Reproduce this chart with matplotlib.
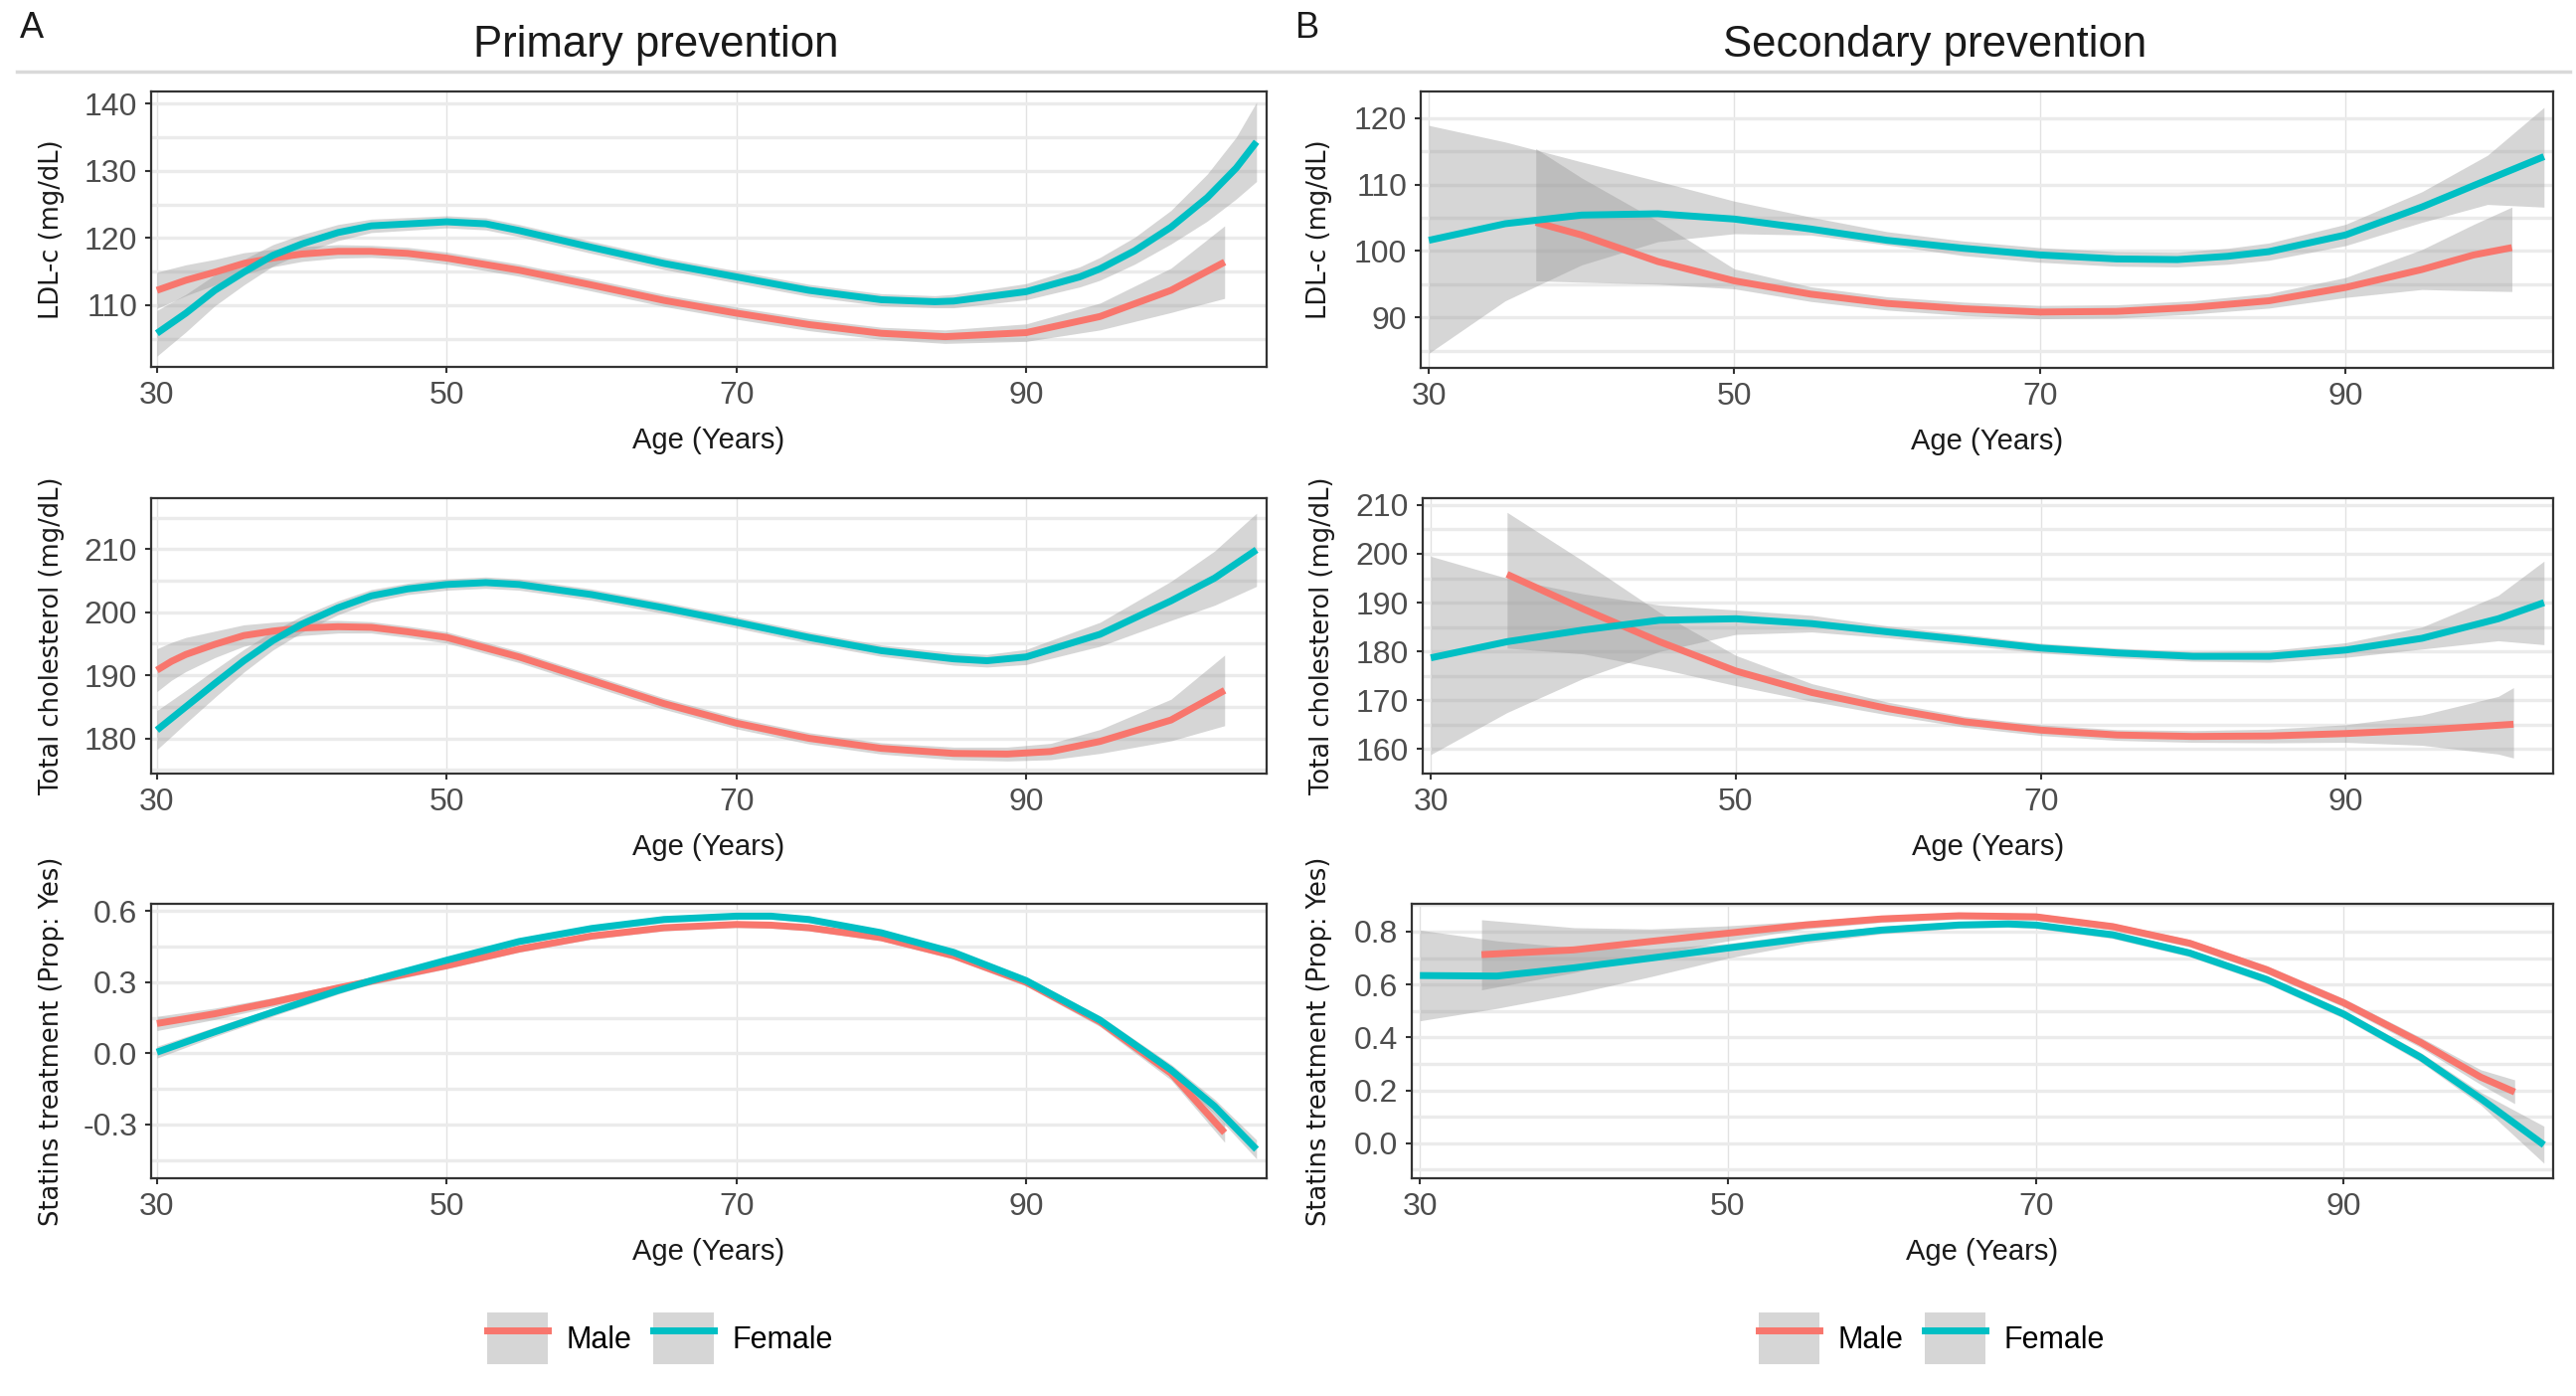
import numpy as np
import matplotlib
matplotlib.use("Agg")
import matplotlib.pyplot as plt
from matplotlib.patches import Patch
from matplotlib.lines import Line2D

plt.rcParams["font.family"] = ["Liberation Sans", "DejaVu Sans"]
plt.rcParams["axes.unicode_minus"] = False

MALE = "#F8766D"
FEMALE = "#00BFC4"

# ---------------- Primary prevention (A) ----------------
# LDL-c
a_ldl_f_age = [30, 32, 34, 36, 38, 40, 42.5, 44.8, 50, 52.7, 55, 60, 65, 70, 75, 80, 83.7, 85, 90,
               93.7, 95.1, 97.5, 100, 102.5, 104.5, 105.9]
a_ldl_f_fit = [105.8, 108.8, 112.2, 114.9, 117.4, 119.1, 120.8, 121.8, 122.4, 122.1, 121.1, 118.6,
               116.2, 114.2, 112.2, 110.8, 110.5, 110.6, 112.0, 114.2, 115.4, 118.1, 121.6, 126.0,
               130.4, 134.3]
a_ldl_f_hw = [3.4, 2.8, 2.3, 1.9, 1.6, 1.4, 1.2, 1.0, 0.9, 0.9, 0.9, 0.9, 0.9, 0.9, 0.9, 0.9, 0.9,
              1.0, 1.2, 1.5, 1.7, 2.0, 2.5, 3.5, 4.6, 5.9]
a_ldl_m_age = [30, 32, 34, 36, 38, 40, 42.5, 44.8, 47.3, 50, 55, 60, 65, 70, 75, 80, 84.4, 90, 95.1,
               100, 103.7]
a_ldl_m_fit = [112.2, 113.7, 114.9, 116.2, 117.0, 117.6, 118.0, 118.0, 117.7, 117.0, 115.2, 113.0,
               110.7, 108.8, 107.1, 105.8, 105.3, 105.9, 108.3, 112.2, 116.4]
a_ldl_m_hw = [2.7, 2.3, 1.9, 1.6, 1.3, 1.1, 1.0, 0.9, 0.9, 0.9, 0.9, 0.9, 0.9, 0.9, 0.9, 0.9, 1.0,
              1.3, 2.0, 3.3, 5.4]

# Total cholesterol
a_tc_f_age = [30, 32, 34, 36, 38, 40, 42.5, 44.8, 47.3, 50, 52.7, 55, 60, 65, 70, 75, 80, 85, 87.3,
              90, 95.1, 100, 103, 105.9]
a_tc_f_fit = [181.3, 185.0, 188.7, 192.3, 195.5, 198.1, 200.7, 202.6, 203.7, 204.4, 204.7, 204.4,
              202.8, 200.7, 198.4, 196.0, 193.9, 192.6, 192.3, 192.9, 196.5, 201.8, 205.4, 209.9]
a_tc_f_hw = [3.1, 2.6, 2.2, 1.8, 1.5, 1.3, 1.1, 1.0, 0.9, 0.9, 0.9, 0.9, 0.9, 0.9, 0.9, 0.9, 0.9,
             1.0, 1.0, 1.2, 1.9, 3.1, 4.3, 5.8]
a_tc_m_age = [30, 31, 32, 34, 36, 38, 40, 42.5, 44.8, 47.3, 50, 55, 60, 65, 70, 75, 80, 85, 88.7,
              91.7, 95.1, 100, 103.7]
a_tc_m_fit = [190.8, 192.2, 193.3, 194.9, 196.3, 197.0, 197.5, 197.7, 197.6, 196.9, 196.0, 192.9,
              189.2, 185.5, 182.4, 180.0, 178.4, 177.6, 177.5, 177.9, 179.5, 182.9, 187.6]
a_tc_m_hw = [3.4, 3.0, 2.7, 2.1, 1.7, 1.4, 1.2, 1.0, 0.9, 0.9, 0.9, 0.9, 0.9, 0.9, 0.9, 0.9, 0.9,
             1.0, 1.1, 1.3, 1.9, 3.3, 5.6]

# Statins treatment
a_st_f_age = [30, 34, 38, 42.5, 44.8, 50, 55, 60, 65, 70, 72.4, 75, 80, 85, 90, 95.1, 100, 103, 105.9]
a_st_f_fit = [0.005, 0.091, 0.174, 0.265, 0.307, 0.393, 0.472, 0.527, 0.565, 0.579, 0.579, 0.565,
              0.509, 0.426, 0.307, 0.140, -0.070, -0.223, -0.405]
a_st_f_hw = [0.025, 0.02, 0.017, 0.015, 0.014, 0.013, 0.013, 0.013, 0.013, 0.013, 0.013, 0.013,
             0.013, 0.014, 0.015, 0.018, 0.024, 0.03, 0.04]
a_st_m_age = [30, 34, 38, 42.5, 50, 55, 60, 65, 70, 72.4, 75, 80, 85, 90, 95.1, 100, 103.7]
a_st_m_fit = [0.126, 0.167, 0.216, 0.276, 0.370, 0.440, 0.495, 0.530, 0.544, 0.541, 0.530, 0.488,
              0.412, 0.300, 0.133, -0.084, -0.335]
a_st_m_hw = [0.03, 0.024, 0.019, 0.016, 0.013, 0.013, 0.013, 0.013, 0.013, 0.013, 0.013, 0.013,
             0.014, 0.016, 0.02, 0.028, 0.04]

# ---------------- Secondary prevention (B) ----------------
b_ldl_f_age = [30, 35, 40, 45, 50, 55, 60, 65, 70, 75, 79, 82.3, 85, 90, 95, 99.3, 103]
b_ldl_f_fit = [101.6, 104.1, 105.4, 105.6, 104.8, 103.3, 101.6, 100.4, 99.4, 98.8, 98.7, 99.2,
               99.9, 102.4, 106.6, 110.7, 114.2]
b_ldl_f_lo = [84.6, 92.5, 97.9, 101.4, 102.6, 102.4, 100.9, 99.3, 98.3, 97.7, 97.6, 98.0, 98.6,
              100.8, 104.3, 107.0, 106.6]
b_ldl_f_hi = [118.9, 116.4, 113.4, 110.5, 107.5, 105.1, 102.9, 101.5, 100.5, 99.9, 99.8, 100.4,
              101.2, 104.0, 108.9, 114.4, 121.6]
b_ldl_m_age = [37, 40, 45, 50, 55, 60, 65, 70, 75, 80, 85, 90, 95, 98.4, 100.9]
b_ldl_m_fit = [104.3, 102.4, 98.4, 95.5, 93.5, 92.1, 91.3, 90.8, 90.9, 91.5, 92.5, 94.5, 97.2, 99.4, 100.5]
b_ldl_m_lo = [95.5, 95.3, 95.0, 94.3, 92.4, 91.1, 90.3, 89.8, 89.9, 90.5, 91.4, 93.0, 94.2, 94.0, 93.9]
b_ldl_m_hi = [115.4, 111.0, 104.5, 97.3, 94.6, 93.1, 92.3, 91.8, 91.9, 92.5, 93.6, 96.0, 100.2, 104.0, 106.6]

b_tc_f_age = [30, 35, 40, 45, 50, 55, 60, 65, 70, 75, 80, 85, 90, 95, 100, 103]
b_tc_f_fit = [178.7, 182.0, 184.4, 186.4, 186.7, 185.7, 184.0, 182.4, 180.7, 179.7, 179.0, 179.0,
              180.3, 182.7, 186.7, 190.0]
b_tc_f_lo = [158.9, 167.5, 174.5, 180.0, 183.5, 184.0, 182.8, 181.3, 179.7, 178.7, 178.0, 177.8,
             178.8, 180.5, 182.2, 181.4]
b_tc_f_hi = [199.5, 195.0, 191.8, 189.5, 188.5, 187.4, 185.2, 183.5, 181.7, 180.7, 180.0, 180.2,
             181.8, 185.0, 191.5, 198.5]
b_tc_m_age = [35, 40, 45, 50, 55, 60, 65, 70, 75, 80, 85, 90, 95, 100, 101]
b_tc_m_fit = [195.8, 188.7, 182.0, 176.0, 171.6, 168.3, 165.6, 163.9, 162.9, 162.6, 162.7, 163.2,
              163.9, 164.9, 165.1]
b_tc_m_lo = [180.7, 179.5, 176.5, 173.0, 169.8, 167.0, 164.5, 162.8, 161.8, 161.4, 161.3, 161.4,
             160.8, 159.0, 158.2]
b_tc_m_hi = [208.5, 198.5, 188.0, 179.2, 173.4, 169.6, 166.7, 165.0, 164.0, 163.8, 164.1, 165.0,
             167.0, 170.8, 172.6]

b_st_f_age = [30, 35, 40, 45, 50, 55, 60, 65, 68.2, 70, 75, 80, 85, 90, 95, 98.9, 103]
b_st_f_fit = [0.634, 0.632, 0.663, 0.700, 0.738, 0.775, 0.806, 0.825, 0.829, 0.825, 0.788, 0.719,
              0.619, 0.488, 0.325, 0.169, -0.006]
b_st_f_lo = [0.463, 0.51, 0.565, 0.63, 0.70, 0.755, 0.792, 0.812, 0.816, 0.812, 0.774, 0.705,
             0.604, 0.472, 0.307, 0.145, -0.075]
b_st_f_hi = [0.806, 0.765, 0.74, 0.735, 0.755, 0.792, 0.82, 0.838, 0.842, 0.838, 0.802, 0.733,
             0.634, 0.504, 0.343, 0.193, 0.065]
b_st_m_age = [34, 40, 45, 50, 55, 60, 65, 70, 75, 80, 85, 90, 95, 98.9, 101.1]
b_st_m_fit = [0.713, 0.731, 0.763, 0.794, 0.825, 0.848, 0.860, 0.856, 0.819, 0.756, 0.656, 0.531,
              0.381, 0.250, 0.194]
b_st_m_lo = [0.58, 0.645, 0.71, 0.765, 0.81, 0.835, 0.847, 0.843, 0.806, 0.742, 0.641, 0.515,
             0.362, 0.222, 0.15]
b_st_m_hi = [0.845, 0.815, 0.81, 0.822, 0.84, 0.861, 0.873, 0.869, 0.832, 0.77, 0.671, 0.547,
             0.40, 0.278, 0.24]

age_ticks = [30, 50, 70, 90]

W, H = 2591, 1404
fig = plt.figure(figsize=(W / 100, H / 100), dpi=100)
fig.patch.set_facecolor("white")


def add_ax(left, top, right, bottom):
    return fig.add_axes([left / W, 1 - bottom / H, (right - left) / W, (bottom - top) / H])


def band(fit, hw):
    fit = np.array(fit)
    hw = np.array(hw)
    return fit - hw, fit + hw


def panel(box, series, xlim, ylim, yticks, ystep, fmt, ylabel, ylab_x):
    left, top, right, bottom = box
    ax = add_ax(left, top, right, bottom)
    for ages, fit, lo, hi, col in series:
        ax.fill_between(ages, lo, hi, color="#999999", alpha=0.4, lw=0, zorder=2)
    for ages, fit, lo, hi, col in series:
        ax.plot(ages, fit, color=col, lw=5, zorder=3, solid_capstyle="butt",
                solid_joinstyle="round")
    ax.set_xlim(*xlim)
    ax.set_ylim(*ylim)
    ax.set_xticks(age_ticks)
    ax.set_yticks(yticks)
    ax.set_yticklabels([fmt % v for v in yticks])
    ax.set_yticks(np.arange(yticks[0] - ystep / 2, ylim[1], ystep), minor=True)
    ax.grid(axis="y", which="both", color="#ebebeb", lw=2.4, zorder=0)
    ax.grid(axis="x", which="major", color="#e2e2e2", lw=1.0, zorder=0)
    ax.set_axisbelow(True)
    for s in ax.spines.values():
        s.set_color("#333333")
        s.set_linewidth(1.6)
    ax.tick_params(which="major", length=4, width=1.5, color="#333333",
                   labelsize=23, labelcolor="#4d4d4d", pad=6)
    ax.tick_params(which="minor", length=0)
    fig.text((left + right) / 2 / W, 1 - (bottom + 74) / H, "Age (Years)",
             ha="center", va="center", fontsize=21, color="#1a1a1a")
    fig.text(ylab_x / W, 1 - (top + bottom) / 2 / H, ylabel, rotation=90,
             ha="center", va="center", fontsize=18.5, color="#1a1a1a",
             family="DejaVu Sans")
    return ax


xa = (29.6, 106.6)
xb = (29.47, 103.6)

lo, hi = band(a_ldl_m_fit, a_ldl_m_hw)
lo2, hi2 = band(a_ldl_f_fit, a_ldl_f_hw)
panel((152, 92, 1274, 369),
      [(a_ldl_m_age, a_ldl_m_fit, lo, hi, MALE), (a_ldl_f_age, a_ldl_f_fit, lo2, hi2, FEMALE)],
      xa, (100.8, 141.8), [110, 120, 130, 140], 10, "%d", "LDL-c (mg/dL)", 52)

lo, hi = band(a_tc_m_fit, a_tc_m_hw)
lo2, hi2 = band(a_tc_f_fit, a_tc_f_hw)
panel((152, 501, 1274, 778),
      [(a_tc_m_age, a_tc_m_fit, lo, hi, MALE), (a_tc_f_age, a_tc_f_fit, lo2, hi2, FEMALE)],
      xa, (174.4, 218.1), [180, 190, 200, 210], 10, "%d", "Total cholesterol (mg/dL)", 52)

lo, hi = band(a_st_m_fit, a_st_m_hw)
lo2, hi2 = band(a_st_f_fit, a_st_f_hw)
panel((152, 909, 1274, 1185),
      [(a_st_m_age, a_st_m_fit, lo, hi, MALE), (a_st_f_age, a_st_f_fit, lo2, hi2, FEMALE)],
      xa, (-0.527, 0.631), [-0.3, 0.0, 0.3, 0.6], 0.3, "%.1f", "Statins treatment (Prop: Yes)", 52)

panel((1429, 92, 2568, 370),
      [(b_ldl_m_age, b_ldl_m_fit, b_ldl_m_lo, b_ldl_m_hi, MALE),
       (b_ldl_f_age, b_ldl_f_fit, b_ldl_f_lo, b_ldl_f_hi, FEMALE)],
      xb, (82.4, 124.0), [90, 100, 110, 120], 10, "%d", "LDL-c (mg/dL)", 1327)

panel((1431, 501, 2568, 778),
      [(b_tc_m_age, b_tc_m_fit, b_tc_m_lo, b_tc_m_hi, MALE),
       (b_tc_f_age, b_tc_f_fit, b_tc_f_lo, b_tc_f_hi, FEMALE)],
      xb, (155.5, 211.4), [160, 170, 180, 190, 200, 210], 10, "%d", "Total cholesterol (mg/dL)", 1330)

panel((1420, 909, 2568, 1185),
      [(b_st_m_age, b_st_m_fit, b_st_m_lo, b_st_m_hi, MALE),
       (b_st_f_age, b_st_f_fit, b_st_f_lo, b_st_f_hi, FEMALE)],
      xb, (-0.132, 0.905), [0.0, 0.2, 0.4, 0.6, 0.8], 0.2, "%.1f", "Statins treatment (Prop: Yes)", 1327)

# headers
fig.text(20 / W, 1 - 29 / H, "A", ha="left", va="center", fontsize=26, color="#1a1a1a")
fig.text(1303 / W, 1 - 29 / H, "B", ha="left", va="center", fontsize=26, color="#1a1a1a")
fig.text(660 / W, 1 - 45 / H, "Primary prevention", ha="center", va="center", fontsize=31.5, color="#1a1a1a")
fig.text(1946 / W, 1 - 45 / H, "Secondary prevention", ha="center", va="center", fontsize=31.5, color="#1a1a1a")
fig.add_artist(Line2D([17 / W, 2585 / W], [1 - 72 / H, 1 - 72 / H], color="#d9d9d9", lw=2.5))

# legends
for cx in (664, 1943):
    handles = [(Patch(facecolor="#999999", alpha=0.4, edgecolor="none"), Line2D([], [], color=MALE, lw=5)),
               (Patch(facecolor="#999999", alpha=0.4, edgecolor="none"), Line2D([], [], color=FEMALE, lw=5))]
    fig.legend(handles=handles, labels=["Male", "Female"], ncol=2, loc="center",
               bbox_to_anchor=(cx / W, 1 - 1346 / H), frameon=False, fontsize=22,
               handlelength=2.0, handleheight=2.2, handletextpad=0.6, columnspacing=0.7)

fig.savefig("out.png", dpi=100, facecolor="white")
